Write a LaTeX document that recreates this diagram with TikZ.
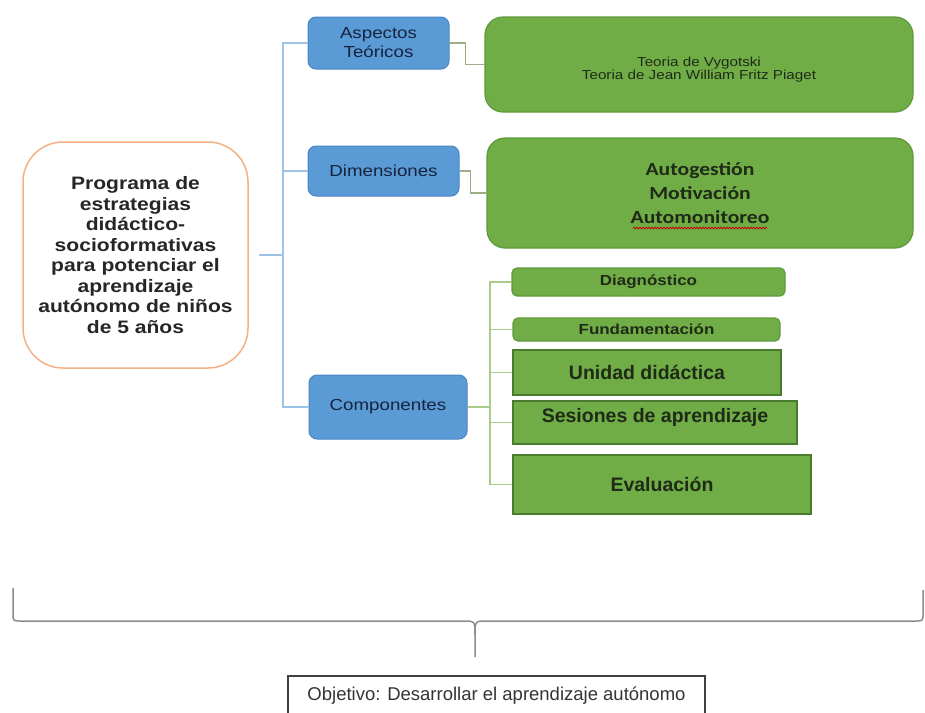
\documentclass[tikz,border=0pt]{standalone}
\usepackage{fontspec}
\setmainfont{Liberation Sans}
\newfontfamily\WideArial{Liberation Sans}[FakeStretch=1.17]
\newfontfamily\WideCalibri{Carlito}[FakeStretch=1.17]
\usetikzlibrary{positioning,decorations.pathmorphing}

%Colours
\definecolor{OrangeLine}{HTML}{F4B183}
\definecolor{BlueBox}{HTML}{5B9BD5}
\definecolor{BlueEdge}{HTML}{4A86C4}
\definecolor{BlueLine}{HTML}{9DC3E6}
\definecolor{NavyText}{HTML}{16233F}
\definecolor{GreenBox}{HTML}{70AD47}
\definecolor{GreenEdge}{HTML}{5E9A3B}
\definecolor{GreenLine}{HTML}{A9CB8C}
\definecolor{OliveLine}{HTML}{9CAE86}
\definecolor{DarkText}{HTML}{1F2A17}
\definecolor{BraceGray}{HTML}{8C8C8C}

\tikzset{
  TitleBox/.style={draw=OrangeLine, line width=1.5pt, fill=white, rounded corners=40pt,
    align=center, inner sep=0pt, text=black!85,
    font=\WideArial\bfseries\fontsize{18}{20.5}\selectfont},
  BlueBlock/.style={draw=BlueEdge, fill=BlueBox, rounded corners=8pt, line width=1pt,
    align=center, inner sep=0pt, text=NavyText,
    font=\WideArial\fontsize{16}{19}\selectfont},
  GreenRound/.style={draw=GreenEdge, fill=GreenBox, line width=1.2pt, align=center,
    inner sep=0pt, text=DarkText},
  GreenSquare/.style={draw=GreenEdge!80!black, fill=GreenBox, line width=1.2pt,
    inner sep=0pt, text=DarkText, font=\bfseries\fontsize{19.5}{22}\selectfont},
  BlueLink/.style={draw=BlueLine, line width=1.5pt},
  GreenLink/.style={draw=GreenLine, line width=1.8pt},
  OliveLink/.style={draw=OliveLine, line width=1.5pt},
}

\begin{document}
\begin{tikzpicture}[x=1pt,y=-1pt]
\useasboundingbox (0,0) rectangle (925,712);

%Program box
\node[TitleBox, minimum width=225pt, minimum height=226pt] (prog) at (135.5,255)
  {Programa de\\estrategias\\didáctico-\\socioformativas\\para potenciar el\\aprendizaje\\autónomo de niños\\de 5 años};

%Blue blocks
\node[BlueBlock, minimum width=141pt, minimum height=52pt] (asp) at (378.5,43) {Aspectos\\Teóricos};
\node[BlueBlock, minimum width=151pt, minimum height=50pt] (dim) at (383.5,171) {Dimensiones};
\node[BlueBlock, minimum width=158pt, minimum height=64pt] (comp) at (388,407) {Componentes};

%Blue trunk
\coordinate (trunk) at (283,255);
\draw[BlueLink, shorten <=10pt] (prog.east) -- (trunk);
\draw[BlueLink] (trunk) |- (asp.west);
\draw[BlueLink] (trunk) |- (dim.west);
\draw[BlueLink] (trunk) |- (comp.west);

%Theories
\node[GreenRound, rounded corners=18pt, minimum width=428pt, minimum height=95pt,
  font=\WideArial\fontsize{13}{13.5}\selectfont] (teo) at (699,64.5)
  {\raisebox{-9pt}[0pt][0pt]{\begin{tabular}{@{}c@{}}Teoria de Vygotski\\Teoria de Jean William Fritz Piaget\end{tabular}}};
\draw[OliveLink] (asp.east) -- ++(16,0) |- (teo.west);

%Dimensions
\node[GreenRound, rounded corners=18pt, minimum width=426pt, minimum height=110pt,
  font=\WideCalibri\bfseries\fontsize{18.5}{24}\selectfont] (dims) at (700,193)
  {Autogestión\\Motivación\\Automonitoreo};
\draw[red!80!black, line width=0.8pt, decorate, decoration={snake, amplitude=0.8pt, segment length=3pt}]
  ([xshift=-67pt,yshift=-35pt]dims.center) -- ([xshift=67pt,yshift=-35pt]dims.center);
\draw[OliveLink] (dim.east) -- ++(11,0) |- (dims.west);

%Components
\node[GreenRound, rounded corners=5pt, minimum width=273pt, minimum height=28pt,
  font=\WideArial\bfseries\fontsize{14.5}{16}\selectfont] (diag) at (648.5,282) {Diagnóstico};
\node[GreenRound, rounded corners=5pt, minimum width=267pt, minimum height=23pt,
  font=\WideArial\bfseries\fontsize{14.5}{16}\selectfont] (fund) at (646.5,329.5) {Fundamentación};
\node[GreenSquare, minimum width=268pt, minimum height=45pt] (unid) at (647,372.5) {Unidad didáctica};
\node[GreenSquare, minimum width=284pt, minimum height=43pt, text height=14pt, text depth=14pt]
  (ses) at (655,422.5) {Sesiones de aprendizaje};
\node[GreenSquare, minimum width=298pt, minimum height=59pt] (eval) at (662,484.5) {Evaluación};

\coordinate (ctrunk) at (490,407);
\draw[GreenLink] (comp.east) -- (ctrunk);
\foreach \part in {diag,fund,unid,ses,eval}
  \draw[GreenLink] (ctrunk) |- (\part.west);

%Brace
\coordinate (tip) at (475,657);
\draw[BraceGray, line width=1.5pt]
  (13,588) -- (13,613) .. controls (13,621) .. (21,621) -- (463,621)
  .. controls (475,621) .. (475,635) -- (tip);
\draw[BraceGray, line width=1.5pt]
  (475,635) .. controls (475,621) .. (487,621) -- (915,621)
  .. controls (923,621) .. (923,613) -- (923,590);

%Objective
\node[draw=black!75, line width=1.5pt, minimum width=417pt, minimum height=40pt, inner sep=0pt,
  font=\fontsize{18.5}{20}\selectfont, text=black!80] (obj) at (496.5,696)
  {Objetivo: Desarrollar el aprendizaje autónomo};

\end{tikzpicture}
\end{document}
